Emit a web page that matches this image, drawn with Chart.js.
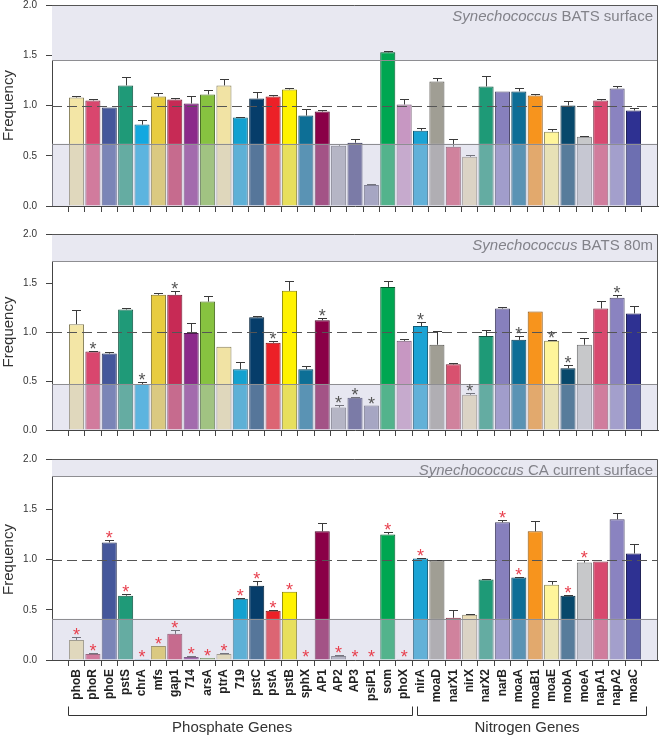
<!DOCTYPE html>
<html><head><meta charset="utf-8">
<script src="https://cdn.jsdelivr.net/npm/chart.js@4/dist/chart.umd.min.js"></script>
<style>
html,body{margin:0;padding:0;background:#fff;width:660px;height:736px;overflow:hidden;position:relative}
canvas{position:absolute;left:0}
</style></head><body>
<canvas id="c1" width="660" height="232" style="top:-10px"></canvas>
<canvas id="c2" width="660" height="226" style="top:219px"></canvas>
<canvas id="c3" width="660" height="292" style="top:444px"></canvas>
<script>
const categories = ['phoB','phoR','phoE','pstS','chrA','mfs','gap1','714','arsA','ptrA','719','pstC','pstA','pstB','sphX','AP1','AP2','AP3','psiP1','som','phoX','nirA','moaD','narX1','nirX','narX2','narB','moaA','moaB1','moaE','mobA','moeA','napA1','napA2','moaC'];
const barColors = ['#f3e6a6','#d9466e','#45579b','#1f9a78','#12a8e0','#e8cc3f','#c72a55','#8b2a8a','#87c240','#f1e3a4','#13a1d0','#063d6a','#ec2027','#fff200','#0d6f96','#8a0047','#a9a9b3','#454580','#9090b0','#00a651','#c797c2','#1ba3d4','#a09e94','#d8516f','#eadcb4','#1e9a77','#8780bd','#0d6e96','#f7941d','#fff59a','#07486b','#c7c8ca','#d8496f','#8a83c0','#2e3192'];
const yTicks = [0, 0.5, 1.0, 1.5, 2.0];

const surfaceValues = [1.08,1.05,0.98,1.20,0.81,1.09,1.06,1.02,1.11,1.20,0.88,1.07,1.09,1.16,0.90,0.94,0.60,0.63,0.21,1.53,1.01,0.75,1.24,0.59,0.49,1.19,1.14,1.14,1.10,0.74,1.00,0.69,1.05,1.17,0.95];
const surfaceErrors = [0.01,0.01,0,0.08,0.05,0.03,0.01,0.07,0.04,0.06,0.01,0.06,0.01,0.01,0.07,0.02,0.02,0.04,0.005,0.01,0.05,0.03,0.03,0.08,0.02,0.10,0,0.03,0.01,0.03,0.04,0.01,0.01,0.02,0.03];
const surfaceStars = [];
const surfaceBands = [0.62, 1.45];

const deepValues = [1.08,0.80,0.78,1.23,0.47,1.38,1.38,0.99,1.31,0.85,0.62,1.15,0.89,1.42,0.62,1.12,0.23,0.33,0.25,1.46,0.91,1.06,0.87,0.67,0.36,0.96,1.24,0.92,1.21,0.91,0.63,0.87,1.24,1.35,1.19];
const deepErrors = [0.14,0.01,0.02,0.01,0.02,0.02,0.04,0.10,0.06,0,0.07,0.01,0.02,0.10,0.03,0.02,0.03,0.01,0,0.06,0.02,0.04,0.14,0.01,0.02,0.06,0.02,0.04,0,0.01,0.03,0.07,0.08,0.03,0.08];
const deepStars = ['phoR','chrA','gap1','pstA','AP1','AP2','AP3','psiP1','nirA','nirX','moaA','moaE','mobA','napA2'];
const deepBands = [0.47, 1.72];

const caValues = [0.20,0.06,1.17,0.64,0.01,0.14,0.26,0.03,0.02,0.06,0.61,0.74,0.49,0.68,0.005,1.28,0.04,0.005,0.005,1.25,0.01,1.01,0.99,0.42,0.45,0.80,1.37,0.82,1.28,0.75,0.64,0.97,0.98,1.40,1.06];
const caErrors = [0.03,0.005,0.02,0.02,0,0,0.04,0.01,0,0.005,0.01,0.05,0.01,0,0,0.08,0.005,0,0,0.02,0,0.005,0.01,0.08,0.01,0.01,0.02,0.005,0.10,0.04,0.005,0.03,0,0.06,0.09];
const caStars = ['phoB','phoR','phoE','pstS','chrA','mfs','gap1','714','arsA','ptrA','719','pstC','pstA','pstB','sphX','AP2','AP3','psiP1','som','phoX','nirA','narB','moaA','mobA','moeA'];
const caBands = [0.41, 1.83];

const geneGroups = [
  {label: 'Phosphate Genes', first: 'phoB', last: 'phoX'},
  {label: 'Nitrogen Genes', first: 'nirA', last: 'moaC'}
];

const FONT = '"Liberation Sans", Arial, sans-serif';

function darken(hex, f) {
  const n = parseInt(hex.slice(1), 16);
  const r = Math.round(((n >> 16) & 255) * f), g = Math.round(((n >> 8) & 255) * f), b = Math.round((n & 255) * f);
  return `rgb(${r},${g},${b})`;
}

function panelPlugin(p) {
  return {
    id: 'panelDeco',
    beforeDatasetsDraw(chart) {
      const {ctx, chartArea: a, scales: {y}} = chart;
      ctx.save();
      ctx.fillStyle = '#e8e8f1';
      const yt = y.getPixelForValue(p.bands[1]);
      ctx.fillRect(a.left, a.top, a.right - a.left, yt - a.top);
      ctx.restore();
    },
    afterDatasetsDraw(chart) {
      const {ctx, chartArea: a, scales: {x, y}} = chart;
      ctx.save();
      ctx.strokeStyle = '#3a3a3a';
      ctx.lineWidth = 1;
      p.values.forEach((v, i) => {
        const e = p.errors[i];
        if (!e) return;
        const px = Math.round(x.getPixelForValue(i)) + 0.5;
        const y0 = y.getPixelForValue(v);
        const y1 = Math.round(y.getPixelForValue(v + e)) + 0.5;
        ctx.beginPath();
        ctx.moveTo(px, y0); ctx.lineTo(px, y1);
        ctx.moveTo(px - 4.5, y1); ctx.lineTo(px + 4.5, y1);
        ctx.stroke();
      });
      const yl = y.getPixelForValue(p.bands[0]);
      ctx.fillStyle = 'rgba(198,198,222,0.42)';
      ctx.fillRect(a.left, yl, a.right - a.left, a.bottom - yl);
      ctx.strokeStyle = '#8e8e92';
      const yu = y.getPixelForValue(p.bands[1]);
      [yl, yu].forEach(yy => {
        const r = Math.round(yy) + 0.5;
        ctx.beginPath(); ctx.moveTo(a.left, r); ctx.lineTo(a.right, r); ctx.stroke();
      });
      ctx.strokeStyle = '#555';
      ctx.setLineDash([10, 5]);
      const y1 = Math.round(y.getPixelForValue(1)) + 0.5;
      ctx.beginPath(); ctx.moveTo(a.left, y1); ctx.lineTo(a.right, y1); ctx.stroke();
      ctx.setLineDash([]);
      ctx.fillStyle = p.starColor;
      ctx.font = '18px ' + FONT;
      ctx.textAlign = 'center';
      ctx.textBaseline = 'alphabetic';
      p.stars.forEach(name => {
        const i = categories.indexOf(name);
        const top = y.getPixelForValue(p.values[i] + (p.errors[i] || 0));
        ctx.fillText('*', x.getPixelForValue(i), top + 4);
      });
      ctx.strokeStyle = '#555';
      ctx.beginPath();
      ctx.moveTo(a.left, a.top + 0.5); ctx.lineTo(a.right - 0.5, a.top + 0.5); ctx.lineTo(a.right - 0.5, a.bottom);
      ctx.stroke();
      ctx.fillStyle = '#828289';
      ctx.textAlign = 'left';
      ctx.font = '15px ' + FONT;
      const rest = ' ' + p.titleRest;
      const wRest = ctx.measureText(rest).width;
      ctx.font = 'italic 15px ' + FONT;
      const wIt = ctx.measureText(p.titleItalic).width;
      const xr = a.right - 5;
      const by = a.top + 16;
      ctx.fillText(p.titleItalic, xr - wRest - wIt, by);
      ctx.font = '15px ' + FONT;
      ctx.fillText(rest, xr - wRest, by);
      ctx.restore();
    },
    afterDraw(chart) {
      if (!p.groups) return;
      const {ctx, chartArea: a, scales: {x}} = chart;
      ctx.save();
      ctx.strokeStyle = '#333';
      ctx.lineWidth = 1;
      ctx.fillStyle = '#333';
      ctx.font = '15px ' + FONT;
      ctx.textAlign = 'center';
      ctx.textBaseline = 'alphabetic';
      const hy = a.bottom + 55.5;
      p.groups.forEach((g, k) => {
        const i0 = categories.indexOf(g.first), i1 = categories.indexOf(g.last);
        const xl = Math.round(x.getPixelForValue(i0) - (k === 0 ? 8 : 4)) + 0.5;
        const xr = Math.round(x.getPixelForValue(i1) + (k === 0 ? 8 : 12)) + 0.5;
        ctx.beginPath();
        ctx.moveTo(xl, hy - 9); ctx.lineTo(xl, hy); ctx.lineTo(xr, hy); ctx.lineTo(xr, hy - 9);
        ctx.stroke();
        const cx = x.getPixelForValue((i0 + i1) / 2 + (k === 0 ? -0.5 : 0));
        ctx.fillText(g.label, cx, a.bottom + 72);
      });
      ctx.restore();
    }
  };
}

function makePanel(id, p, showLabels, xHeight) {
  new Chart(document.getElementById(id), {
    type: 'bar',
    data: {
      datasets: [{
        data: p.values.map((v, i) => ({x: i, y: v})),
        backgroundColor: barColors,
        borderColor: barColors.map(c => darken(c, 0.55)),
        borderWidth: 1,
        barPercentage: 0.92,
        categoryPercentage: 1.0
      }]
    },
    options: {
      responsive: false,
      animation: false,
      events: [],
      layout: {padding: {top: 14, right: 2, left: 0, bottom: 0}},
      plugins: {legend: {display: false}, tooltip: {enabled: false}},
      scales: {
        x: {
          type: 'linear',
          min: -0.967, max: 34.967,
          afterBuildTicks: s => { s.ticks = categories.map((_, i) => ({value: i})); },
          afterFit: s => { s.height = xHeight; },
          grid: {drawOnChartArea: false, drawTicks: true, tickLength: 6, color: '#444'},
          border: {display: true, color: '#444'},
          ticks: {
            display: showLabels,
            autoSkip: false,
            minRotation: 90, maxRotation: 90,
            padding: 3,
            color: '#222',
            font: {family: FONT, size: 12, weight: 'bold'},
            callback: v => categories[v] !== undefined ? categories[v] : ''
          }
        },
        y: {
          min: 0, max: 2,
          afterBuildTicks: s => { s.ticks = yTicks.map(v => ({value: v})); },
          afterFit: s => { s.width = 52; },
          grid: {drawOnChartArea: false, drawTicks: true, tickLength: 6, color: '#444'},
          border: {display: true, color: '#444'},
          ticks: {padding: 9, color: '#333', font: {family: FONT, size: 10}, callback: v => v.toFixed(1)},
          title: {display: true, text: 'Frequency', color: '#333', font: {family: FONT, size: 15}, padding: 0}
        }
      }
    },
    plugins: [panelPlugin(p)]
  });
}

makePanel('c1', {values: surfaceValues, errors: surfaceErrors, stars: surfaceStars, bands: surfaceBands,
  starColor: '#555', titleItalic: 'Synechococcus', titleRest: 'BATS surface'}, false, 16);
makePanel('c2', {values: deepValues, errors: deepErrors, stars: deepStars, bands: deepBands,
  starColor: '#555', titleItalic: 'Synechococcus', titleRest: 'BATS 80m'}, false, 10);
makePanel('c3', {values: caValues, errors: caErrors, stars: caStars, bands: caBands,
  starColor: '#e8414f', titleItalic: 'Synechococcus', titleRest: 'CA current surface', groups: geneGroups}, true, 76);
</script>
</body></html>
